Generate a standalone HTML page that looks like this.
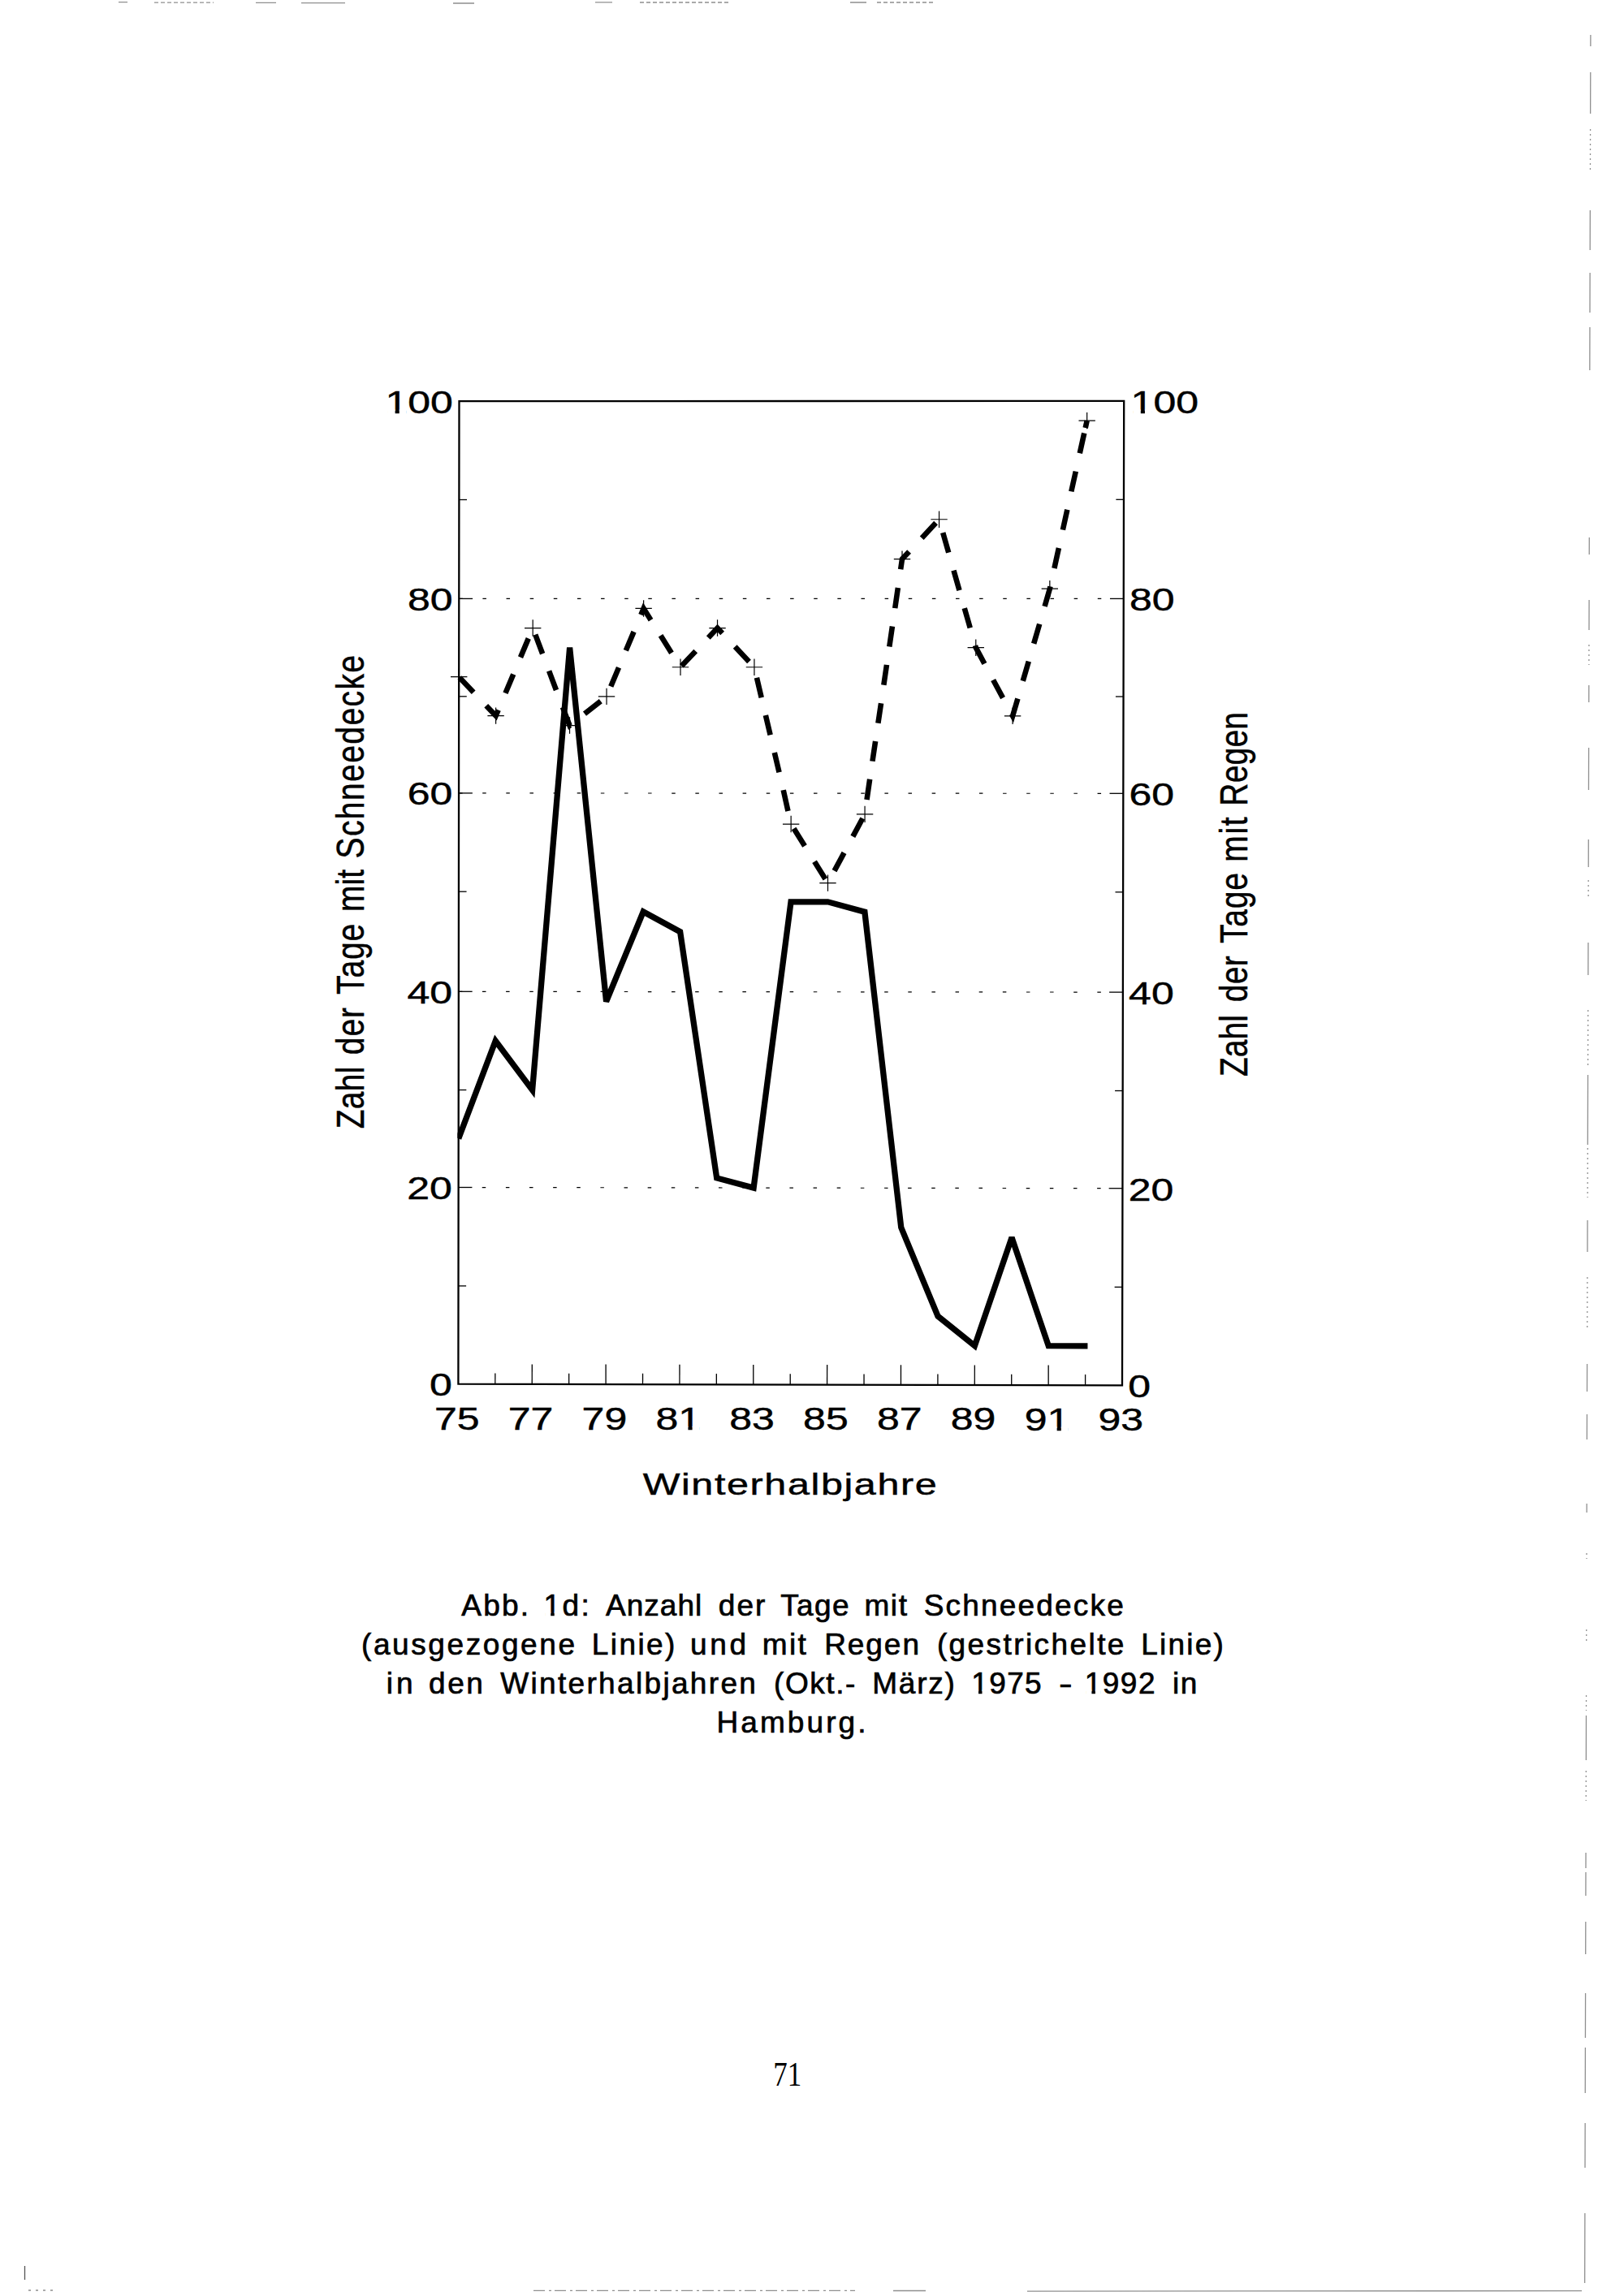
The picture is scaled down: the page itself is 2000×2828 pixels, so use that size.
<!DOCTYPE html>
<html lang="de"><head><meta charset="utf-8"><title>Abb. 1d</title>
<style>
html,body{margin:0;padding:0;background:#fff}
body{width:2000px;height:2828px;overflow:hidden}
svg{display:block}
text{font-family:"Liberation Sans",sans-serif;fill:#000}
.serif{font-family:"Liberation Serif",serif}
.b1{stroke:#000;stroke-width:0.45px;vector-effect:non-scaling-stroke}
.b2{stroke:#000;stroke-width:0.5px;vector-effect:non-scaling-stroke}
.b3{stroke:#000;stroke-width:0.7px}
</style></head><body>
<svg width="2000" height="2828" viewBox="0 0 2000 2828">
<rect width="2000" height="2828" fill="#fff"/>
<g stroke="#000" stroke-width="1.2" fill="none" stroke-dasharray="4.5 24.63">
<line x1="564.62" y1="1462.5" x2="1362.44" y2="1463.67"/>
<line x1="564.84" y1="1221.3" x2="1362.88" y2="1222.08"/>
<line x1="565.06" y1="976.9" x2="1363.32" y2="977.29"/>
<line x1="565.28" y1="737.4" x2="1363.76" y2="737.4"/>
</g>
<g stroke="#000" stroke-width="1.3" fill="none">
<line x1="564.51" y1="1583.9" x2="574.11" y2="1583.9"/><line x1="1382.22" y1="1585.3" x2="1372.62" y2="1585.3"/>
<line x1="564.62" y1="1462.5" x2="581.42" y2="1462.5"/><line x1="1382.44" y1="1463.7" x2="1365.64" y2="1463.7"/>
<line x1="564.73" y1="1342.5" x2="574.33" y2="1342.5"/><line x1="1382.66" y1="1343.5" x2="1373.06" y2="1343.5"/>
<line x1="564.84" y1="1221.3" x2="581.64" y2="1221.3"/><line x1="1382.88" y1="1222.1" x2="1366.08" y2="1222.1"/>
<line x1="564.95" y1="1098.2" x2="574.55" y2="1098.2"/><line x1="1383.1" y1="1098.8" x2="1373.5" y2="1098.8"/>
<line x1="565.06" y1="976.9" x2="581.86" y2="976.9"/><line x1="1383.32" y1="977.3" x2="1366.52" y2="977.3"/>
<line x1="565.17" y1="857.8" x2="574.77" y2="857.8"/><line x1="1383.54" y1="858" x2="1373.94" y2="858"/>
<line x1="565.28" y1="737.4" x2="582.08" y2="737.4"/><line x1="1383.76" y1="737.4" x2="1366.96" y2="737.4"/>
<line x1="565.39" y1="615.5" x2="574.99" y2="615.5"/><line x1="1383.98" y1="615.3" x2="1374.38" y2="615.3"/>
<line x1="609.82" y1="1704.79" x2="609.83" y2="1691.49"/>
<line x1="655.25" y1="1704.88" x2="655.27" y2="1680.38"/>
<line x1="700.67" y1="1704.97" x2="700.68" y2="1691.67"/>
<line x1="746.09" y1="1705.06" x2="746.11" y2="1680.56"/>
<line x1="791.51" y1="1705.14" x2="791.52" y2="1691.84"/>
<line x1="836.93" y1="1705.23" x2="836.96" y2="1680.73"/>
<line x1="882.36" y1="1705.32" x2="882.37" y2="1692.02"/>
<line x1="927.78" y1="1705.41" x2="927.8" y2="1680.91"/>
<line x1="973.2" y1="1705.5" x2="973.21" y2="1692.2"/>
<line x1="1018.62" y1="1705.59" x2="1018.64" y2="1681.09"/>
<line x1="1064.04" y1="1705.68" x2="1064.06" y2="1692.38"/>
<line x1="1109.47" y1="1705.77" x2="1109.49" y2="1681.27"/>
<line x1="1154.89" y1="1705.86" x2="1154.9" y2="1692.56"/>
<line x1="1200.31" y1="1705.94" x2="1200.33" y2="1681.44"/>
<line x1="1245.73" y1="1706.03" x2="1245.74" y2="1692.73"/>
<line x1="1291.15" y1="1706.12" x2="1291.18" y2="1681.62"/>
<line x1="1336.58" y1="1706.21" x2="1336.59" y2="1692.91"/>
</g>
<polygon points="565.5,494.2 1384.2,493.8 1382,1706.3 564.4,1704.7" fill="none" stroke="#000" stroke-width="2.3"/>
<path d="M565.88 834.45L583.17 852.79M598.75 869.18L610.61 881.63L613.68 874.42M622.46 853.71L632.23 830.5M641.01 809.6L650.78 786.39M659.26 781.68L668.12 805.23M676.11 826.44L684.97 849.99M692.96 871.05L701.53 893.57L702.18 893.06M719.99 879.07L739.78 863.54M752.24 845.45L762.01 822.23M770.8 801.33L780.56 778.11M789.36 757.2L792.62 749.45L801.54 763.65M813.6 782.86L826.99 804.19M839.36 820.29L856.7 801.94M872.31 785.42L883.53 773.54L889.63 780.02M905.2 796.54L922.49 814.9M931.97 834.67L937.71 859.16M942.89 880.98L948.63 905.22M953.81 927.04L959.55 951.28M964.72 973.11L970.47 998.94M977.63 1020.61L991.01 1042.03M1003.06 1061.32L1016.45 1082.75M1027.56 1072.65L1039.54 1050.39M1050.34 1030.35L1062.32 1008.03M1067.52 985.03L1071.17 959.81M1074.46 937.63L1078.11 912.98M1081.4 890.79L1085.05 866.15M1088.34 843.81L1091.99 818.89M1095.28 796.46L1098.93 771.55M1102.22 749.11L1105.87 724.03M1109.16 701.32L1111.01 688.59L1119.59 679.38M1135.21 662.64L1152.56 644.05M1161.23 656.17L1168.21 680.66M1174.5 702.71L1181.48 727.2M1187.76 749.11L1194.74 773.3M1201.03 795.08L1201.78 797.68L1212.42 817.49M1223.15 837.47L1235.07 859.65M1245.8 879.42L1247.1 881.82L1253.39 860.51M1259.75 838.75L1266.8 814.56M1273.16 792.78L1280.22 768.58M1286.58 746.8L1292.84 725.19L1293.46 722.37M1298.41 699.96L1303.91 675.06M1308.86 652.64L1314.36 627.74M1319.31 605.37L1324.81 580.6M1329.76 558.29L1335.26 533.51M1336.7 527.03L1338.67 518.12" fill="none" stroke="#000" stroke-width="6.6" stroke-linejoin="miter"/>
<path d="M554.99 833.72h20.4M565.19 823.52v20.4M600.41 881.63h20.4M610.61 871.43v20.4M645.98 773.53h20.4M656.18 763.33v20.4M691.33 893.57h20.4M701.53 883.37v20.4M736.83 857.84h20.4M747.03 847.64v20.4M782.42 749.45h20.4M792.62 739.25v20.4M827.8 821.73h20.4M838 811.53v20.4M873.33 773.54h20.4M883.53 763.34v20.4M918.74 821.74h20.4M928.94 811.54v20.4M963.94 1015.03h20.4M974.14 1004.83v20.4M1009.29 1087.62h20.4M1019.49 1077.42v20.4M1054.87 1002.87h20.4M1065.07 992.67v20.4M1100.81 688.59h20.4M1111.01 678.39v20.4M1146.36 639.76h20.4M1156.56 629.56v20.4M1191.58 797.68h20.4M1201.78 787.48v20.4M1236.9 881.82h20.4M1247.1 871.62v20.4M1282.64 725.19h20.4M1292.84 714.99v20.4M1328.47 518.12h20.4M1338.67 507.92v20.4" fill="none" stroke="#000" stroke-width="1.2"/>
<clipPath id="cp"><rect x="563.38" y="400" width="900" height="1400"/></clipPath>
<polyline clip-path="url(#cp)" points="564.68,1402.5 610.23,1281.95 655.61,1342.61 701.63,797.62 746.61,1233.6 792.19,1123 837.61,1147.67 882.68,1450.96 928.1,1463.03 974.01,1110.82 1019.46,1110.85 1064.9,1123.21 1109.76,1511.91 1155.02,1621.19 1200.39,1657.56 1246.03,1524.28 1291.24,1657.73 1336.66,1657.82 1339.46,1657.82" fill="none" stroke="#000" stroke-width="7.3" stroke-linejoin="miter" stroke-miterlimit="3"/>
<g font-size="38" class="b1">
<text transform="translate(556.7,1719.27) scale(1.3158,1)" text-anchor="end">0</text><text transform="translate(1389.2,1721.17) scale(1.3158,1)">0</text>
<text transform="translate(556.92,1477.07) scale(1.3158,1)" text-anchor="end">20</text><text transform="translate(1389.64,1478.57) scale(1.3158,1)">20</text>
<text transform="translate(557.14,1235.87) scale(1.3158,1)" text-anchor="end">40</text><text transform="translate(1390.08,1236.97) scale(1.3158,1)">40</text>
<text transform="translate(557.36,991.47) scale(1.3158,1)" text-anchor="end">60</text><text transform="translate(1390.52,992.17) scale(1.3158,1)">60</text>
<text transform="translate(557.58,751.97) scale(1.3158,1)" text-anchor="end">80</text><text transform="translate(1390.96,752.27) scale(1.3158,1)">80</text>
<text transform="translate(557.8,508.77) scale(1.3158,1)" text-anchor="end">100</text><text transform="translate(1392.6,508.67) scale(1.3158,1)">100</text>
<text transform="translate(562.7,1760.7) scale(1.3158,1)" text-anchor="middle">75</text>
<text transform="translate(653.55,1760.81) scale(1.3158,1)" text-anchor="middle">77</text>
<text transform="translate(744.39,1760.92) scale(1.3158,1)" text-anchor="middle">79</text>
<text transform="translate(835.23,1761.03) scale(1.3158,1)" text-anchor="middle">81</text>
<text transform="translate(926.08,1761.14) scale(1.3158,1)" text-anchor="middle">83</text>
<text transform="translate(1016.92,1761.26) scale(1.3158,1)" text-anchor="middle">85</text>
<text transform="translate(1107.77,1761.37) scale(1.3158,1)" text-anchor="middle">87</text>
<text transform="translate(1198.61,1761.48) scale(1.3158,1)" text-anchor="middle">89</text>
<text transform="translate(1289.45,1761.59) scale(1.3158,1)" text-anchor="middle">91</text>
<text transform="translate(1380.3,1761.7) scale(1.3158,1)" text-anchor="middle">93</text>
</g>
<text class="b1" transform="translate(0,1841.2) scale(1.2933,1)" font-size="37.5"><tspan x="612.11" letter-spacing="1.247">Winterhalbjahre</tspan></text>
<text class="b2" transform="translate(447.9,0) rotate(-90) scale(0.8041,1)" font-size="48.5"><tspan x="-1728.98" letter-spacing="0.350">Zahl</tspan> <tspan x="-1615.68" letter-spacing="1.174">der</tspan> <tspan x="-1523.31" letter-spacing="1.037">Tage</tspan> <tspan x="-1396.53" letter-spacing="0.098">mit</tspan> <tspan x="-1315.1" letter-spacing="1.762">Schneedecke</tspan></text>
<text class="b2" transform="translate(1535.5,0) rotate(-90) scale(0.8041,1)" font-size="48.5"><tspan x="-1649.15" letter-spacing="0.102">Zahl</tspan> <tspan x="-1535.1" letter-spacing="0.490">der</tspan> <tspan x="-1445.09" letter-spacing="0.996">Tage</tspan> <tspan x="-1320.3" letter-spacing="2.025">mit</tspan> <tspan x="-1234.47" letter-spacing="0.217">Regen</tspan></text>
<text class="b3" transform="translate(0,1989.9)" font-size="37"><tspan x="568.21" letter-spacing="2.265">Abb.</tspan> <tspan x="669.52" letter-spacing="2.388">1d:</tspan> <tspan x="745.91" letter-spacing="1.052">Anzahl</tspan> <tspan x="884.83" letter-spacing="2.031">der</tspan> <tspan x="961.17" letter-spacing="1.436">Tage</tspan> <tspan x="1064.4" letter-spacing="1.636">mit</tspan> <tspan x="1137.63" letter-spacing="2.192">Schneedecke</tspan></text>
<text class="b3" transform="translate(0,2037.9)" font-size="37"><tspan x="444.99" letter-spacing="2.591">(ausgezogene</tspan> <tspan x="728.75" letter-spacing="2.440">Linie)</tspan> <tspan x="850.1" letter-spacing="3.610">und</tspan> <tspan x="938.7" letter-spacing="2.386">mit</tspan> <tspan x="1015.15" letter-spacing="1.948">Regen</tspan> <tspan x="1153.89" letter-spacing="2.418">(gestrichelte</tspan> <tspan x="1405.15" letter-spacing="2.240">Linie)</tspan></text>
<text class="b3" transform="translate(0,2085.9)" font-size="37"><tspan x="475.8" letter-spacing="3.935">in</tspan> <tspan x="528.03" letter-spacing="2.540">den</tspan> <tspan x="616.22" letter-spacing="2.331">Winterhalbjahren</tspan> <tspan x="952.99" letter-spacing="1.576">(Okt.-</tspan> <tspan x="1074.25" letter-spacing="1.782">März)</tspan> <tspan x="1196.32" letter-spacing="1.341">1975</tspan> <tspan x="1303.95" textLength="16.62" lengthAdjust="spacingAndGlyphs">-</tspan> <tspan x="1335.72" letter-spacing="1.497">1992</tspan> <tspan x="1444" letter-spacing="1.435">in</tspan></text>
<text class="b3" transform="translate(0,2133.9)" font-size="37"><tspan x="882.55" letter-spacing="3.065">Hamburg.</tspan></text>
<text class="serif" transform="translate(952.33,2569.2) scale(0.8248,1)" font-size="42.4">71</text>
<g fill="#fff"><rect x="477.05" y="504.62" width="9.55" height="6.1"/><rect x="491.75" y="504.62" width="9" height="6.1"/><rect x="1395.25" y="504.52" width="9.55" height="6.1"/><rect x="1409.95" y="504.52" width="9" height="6.1"/><rect x="837.88" y="1756.88" width="9.55" height="6.1"/><rect x="852.58" y="1756.88" width="9" height="6.1"/><rect x="1292.1" y="1757.44" width="9.55" height="6.1"/><rect x="1306.8" y="1757.44" width="9" height="6.1"/><rect x="671.14" y="1985.58" width="7.07" height="6.52"/><rect x="682.71" y="1985.58" width="6.66" height="6.52"/><rect x="1197.94" y="2081.58" width="7.07" height="6.52"/><rect x="1209.5" y="2081.58" width="6.66" height="6.52"/><rect x="1337.35" y="2081.58" width="7.07" height="6.52"/><rect x="1348.9" y="2081.58" width="6.66" height="6.52"/></g>
<g fill="none" stroke="#8f8f8f" stroke-width="1.3">
<path d="M1958.89 43L1958.85 57M1958.77 89L1958.63 140M1958.32 259L1958.19 308M1958.12 336L1957.99 385M1957.95 403L1957.81 456M1957.27 662L1957.21 683M1957.07 739L1956.97 776M1956.79 844L1956.74 865M1956.59 921L1956.45 973M1956.29 1034L1956.21 1068M1955.96 1161L1955.86 1201M1955.54 1324L1955.31 1410M1955.07 1503L1954.97 1542M1954.6 1680L1954.51 1714M1954.44 1742L1954.36 1773M1954.15 1852L1954.13 1863M1953.47 2113L1953.33 2168M1953.03 2282L1952.98 2301M1952.97 2306L1952.89 2335M1952.81 2367L1952.7 2407M1952.58 2455L1952.43 2510M1952.4 2522L1952.25 2578M1952.16 2615L1952.01 2670M1951.87 2726L1951.64 2812"/>
<path stroke-dasharray="2 4" d="M1958.58 159L1958.45 212M1956.92 794L1956.86 819M1956.16 1084L1956.1 1108M1955.74 1244L1955.57 1312M1955.3 1414L1955.14 1475M1954.88 1573L1954.72 1636M1953.99 1913L1953.98 1920M1953.75 2007L1953.7 2024M1953.54 2088L1953.49 2107M1953.29 2181L1953.2 2218"/>
<path d="M1265 2822.2L1948 2821.6M1100 2821.5h40"/>
<path stroke-dasharray="14 5 3 4" d="M657 2821.4H1053"/>
<path stroke-dasharray="3 6" d="M35 2821H66"/>
<path stroke="#555" d="M30.5 2791V2808"/>
<path d="M146 2.6h11M315 3.4h25M371 3.6h54M558 4h26M733 2.8h21M1047 3h20"/>
<path stroke-dasharray="5 3" d="M190 3.2h73M788 3h110M1080 3h70"/>
</g>
</svg>
</body></html>
